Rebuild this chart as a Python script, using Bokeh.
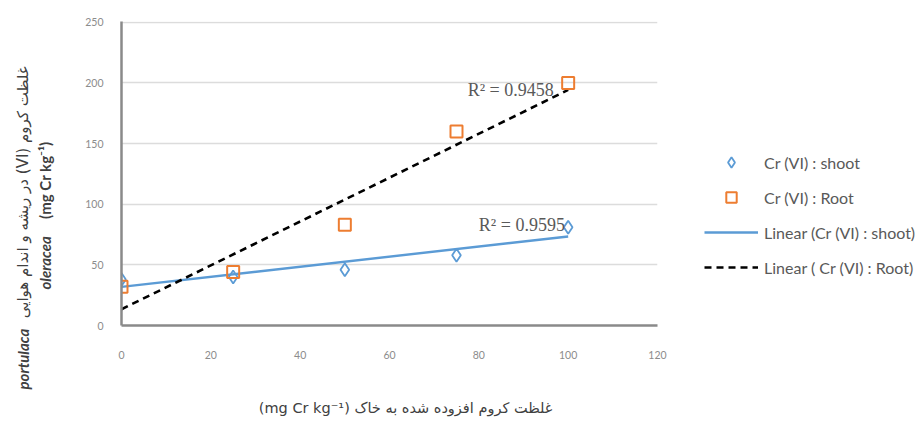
import numpy as np
from bokeh.plotting import figure
from bokeh.layouts import row
from bokeh.models import Range1d, SingleIntervalTicker, Label, Legend, LegendItem, ColumnDataSource
from bokeh.core.properties import value
from bokeh.embed import file_html
from bokeh.resources import INLINE

# ---- data ----
dose = [0, 25, 50, 75, 100]
shoot = [38, 40, 46, 58, 81]
root = [32, 44, 83, 160, 200]
r2_shoot = "R² = 0.9595"
r2_root = "R² = 0.9458"
x_ticks_interval = 20
y_ticks_interval = 50

H = 418
blue = "#5b9bd5"
orange = "#ed7d31"
txt = "#404040"
RLE, PDF = "\u202B", "\u202C"

src = ColumnDataSource(dict(dose=dose, shoot=shoot, root=root))
xs = np.array(dose, dtype=float)
ms, bs = np.polyfit(xs, np.array(shoot, dtype=float), 1)
mr, br = np.polyfit(xs, np.array(root, dtype=float), 1)
xl = [min(dose), max(dose)]
fit_s = [ms * v + bs for v in xl]
fit_r = [mr * v + br for v in xl]

def helper(width):
    f = figure(width=width, height=H, output_backend="svg", toolbar_location=None,
               x_range=Range1d(0, width), y_range=Range1d(0, H),
               min_border=0, min_border_left=0, min_border_right=0,
               min_border_top=0, min_border_bottom=0, frame_align=False)
    f.axis.visible = False
    f.grid.visible = False
    f.outline_line_color = None
    return f

# ---- left panel: y-axis title (mixed styles) ----
left = helper(60)
ang = np.pi / 2
left.text(x=[22], y=[29], text=["portulaca"], angle=ang, text_font=value("Lato"),
          text_font_style="bold italic", text_font_size="15px", text_color=txt,
          text_align="left", text_baseline="middle")
left.text(x=[22], y=[352], text=[RLE + "غلظت کروم (VI) در ریشه و اندام هوایی" + PDF], angle=ang,
          text_font=value("DejaVu Sans"), text_font_size="15px", text_color=txt,
          text_align="right", text_baseline="middle")
left.text(x=[44], y=[129], text=["oleracea"], angle=ang, text_font=value("Lato"),
          text_font_style="bold italic", text_font_size="15px", text_color=txt,
          text_align="left", text_baseline="middle")
left.text(x=[44], y=[277], text=["(mg Cr kg⁻¹)"], angle=ang, text_font=value("Lato"),
          text_font_style="bold", text_font_size="15px", text_color=txt,
          text_align="right", text_baseline="middle")

# ---- main plot ----
p = figure(width=610, height=H, output_backend="svg", toolbar_location=None,
           x_range=Range1d(0, 120), y_range=Range1d(0, 250.6),
           min_border_left=61, min_border_right=13, min_border_top=21, min_border_bottom=92)
p.outline_line_color = None
p.xgrid.grid_line_color = None
p.ygrid.grid_line_color = "#dcdcdc"
p.ygrid.grid_line_width = 1.5

p.xaxis.ticker = SingleIntervalTicker(interval=x_ticks_interval)
p.yaxis.ticker = SingleIntervalTicker(interval=y_ticks_interval)
for ax in (p.xaxis[0], p.yaxis[0]):
    ax.axis_line_color = "#8a8a8a"
    ax.axis_line_width = 2.5
    ax.major_tick_line_color = None
    ax.minor_tick_line_color = None
    ax.major_label_text_color = "#8c8c8c"
    ax.major_label_text_font = "Lato"
    ax.major_label_text_font_size = "10.5px"
p.xaxis.major_label_standoff = 19
p.yaxis.major_label_standoff = 12
p.xaxis.axis_label = RLE + "غلظت کروم افزوده شده به خاک (mg Cr kg⁻¹)" + "\u00A0" * 7 + PDF
p.xaxis.axis_label_text_font = "DejaVu Sans"
p.xaxis.axis_label_text_font_style = "normal"
p.xaxis.axis_label_text_font_size = "14.5px"
p.xaxis.axis_label_text_color = txt
p.xaxis.axis_label_standoff = 38

line_s = dict(line_color=blue, line_width=2.4)
line_r = dict(line_color="black", line_width=2.6, line_dash="7 5")
mk_s = dict(marker="diamond", size=13, fill_color=None, line_color=blue, line_width=1.8)
mk_r = dict(marker="square", size=12, fill_color=None, line_color=orange, line_width=2)

p.line(xl, fit_s, **line_s)
p.line(xl, fit_r, **line_r)
p.scatter("dose", "shoot", source=src, **mk_s)
p.scatter("dose", "root", source=src, **mk_r)

p.add_layout(Label(x=77.5, y=194, text=r2_root, text_font="Liberation Serif", text_font_size="18px",
                   text_color="#595959", text_baseline="middle", text_align="left"))
p.add_layout(Label(x=80.0, y=83, text=r2_shoot, text_font="Liberation Serif", text_font_size="18px",
                   text_color="#595959", text_baseline="middle", text_align="left"))

# ---- right panel: legend (proxy renderers use the same data, kept out of view) ----
right = helper(250)
right.x_range = Range1d(1000, 1250)
l_s = right.scatter("dose", "shoot", source=src, **mk_s)
l_r = right.scatter("dose", "root", source=src, **mk_r)
l_ls = right.line(xl, fit_s, **line_s)
l_lr = right.line(xl, fit_r, **line_r)
legend = Legend(items=[
    LegendItem(label="Cr (VI) : shoot", renderers=[l_s]),
    LegendItem(label="Cr (VI) : Root", renderers=[l_r]),
    LegendItem(label="Linear (Cr (VI) : shoot)", renderers=[l_ls]),
    LegendItem(label="Linear ( Cr (VI) : Root)", renderers=[l_lr]),
], location=(34, 138), orientation="vertical",
    glyph_width=54, glyph_height=26, spacing=9, label_standoff=6,
    padding=0, margin=0, border_line_color=None, background_fill_alpha=0,
    label_text_font="Lato", label_text_font_size="16px", label_text_color="#595959")
right.add_layout(legend, "center")

layout = row(left, p, right, spacing=0)
open("out.html", "w").write(file_html(layout, INLINE))
